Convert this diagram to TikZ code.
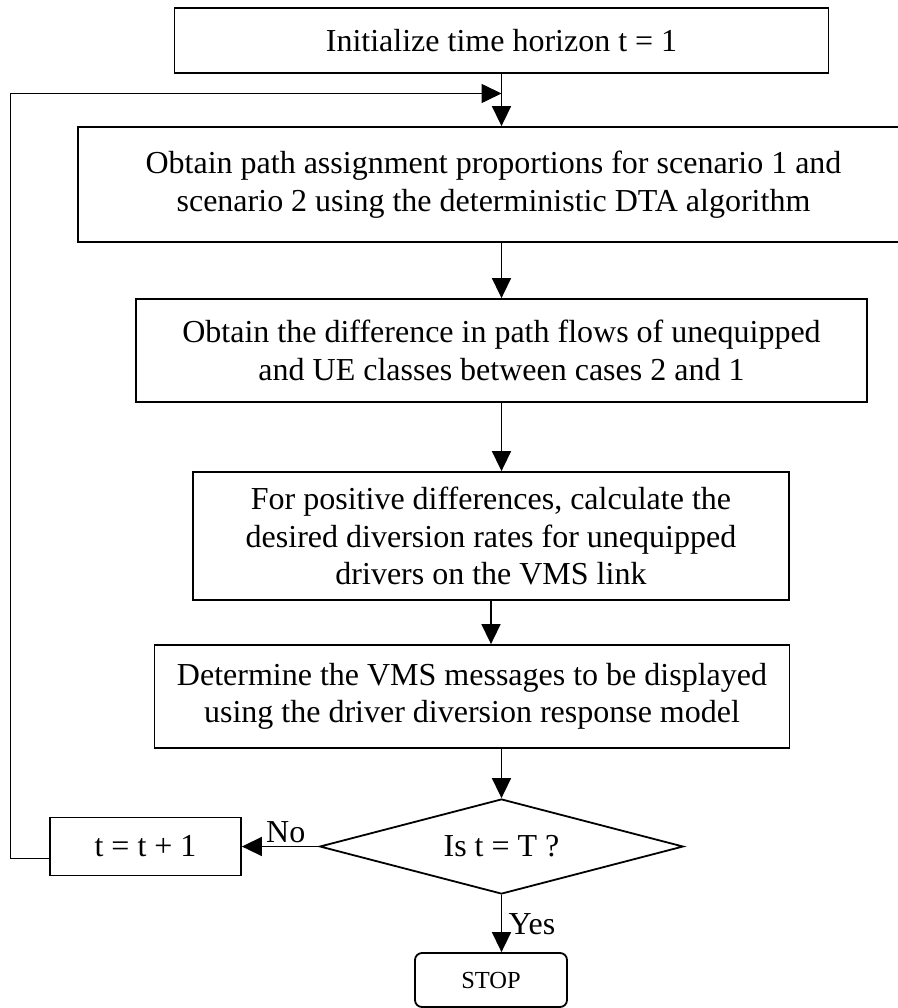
\documentclass[tikz,border=0pt]{standalone}
\usepackage{fontspec}
\setmainfont{Liberation Serif}
\usepackage{tikz}
\usetikzlibrary{arrows.meta,shapes.geometric}
\tikzstyle{block}=[draw, rectangle, line width=1.8pt, inner sep=0pt, align=center]
\tikzstyle{decision}=[draw, diamond, aspect=3.83, line width=1.8pt, inner sep=0pt]
\tikzstyle{stopbox}=[draw, rectangle, rounded corners=7pt, line width=1.8pt, inner sep=0pt, font=\fontsize{24.5}{28}\selectfont]
\tikzstyle{arr}=[line width=1.6pt, -{Triangle[length=20pt,width=19pt]}]
\newcommand{\block}{\node[block]}

\begin{document}
\begin{tikzpicture}[x=1pt, y=-1pt, every node/.style={font=\fontsize{32}{37.5}\selectfont}]
	\useasboundingbox (0,0) rectangle (897,1008);
	\block (1) at (501.5,40.5)[minimum width=654pt, minimum height=65pt]{Initialize time horizon t = 1};
	\block (2) at (493.5,184.5)[minimum width=831pt, minimum height=115pt]{Obtain path assignment proportions for scenario 1 and\\scenario 2 using the deterministic DTA algorithm};
	\block (3) at (501.5,350.5)[minimum width=731pt, minimum height=103pt]{Obtain the difference in path flows of unequipped\\and UE classes between cases 2 and 1};
	\block (4) at (491,536)[minimum width=596pt, minimum height=128pt]{For positive differences, calculate the\\desired diversion rates for unequipped\\drivers on the VMS link};
	\block (5) at (472,696.5)[minimum width=635pt, minimum height=103pt]{Determine the VMS messages to be displayed\\using the driver diversion response model};
	\node[decision] (6) at (501.5,846.5)[minimum width=363.6pt, minimum height=95pt]{Is t = T ?};
	\block (7) at (145.5,846.5)[minimum width=191pt, minimum height=58pt]{t = t + 1};
	\node[stopbox] (8) at (491,980)[minimum width=152pt, minimum height=54pt]{STOP};
	\coordinate (9) at (10.5,93.5);

	\path[arr]
		(1) edge (1 |- 2.north)
		(1 |- 2.south) edge (3)
		(3) edge (3 |- 4.north)
		(4) edge (4 |- 5.north)
		(5.south -| 6) edge (6)
		(6) edge node[above, pos=0.43]{No} (7)
		(6) edge node[right, pos=0.52, xshift=3pt]{Yes} (6 |- 8.north);
	\draw[arr] ([yshift=-12pt]7.west) -| (9) -- (9 -| 1);
\end{tikzpicture}
\end{document}
